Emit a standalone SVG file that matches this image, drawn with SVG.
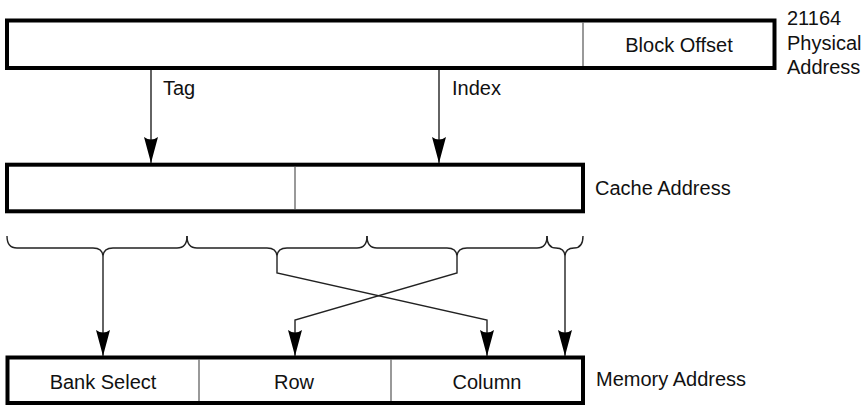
<svg xmlns="http://www.w3.org/2000/svg" width="868" height="405" viewBox="0 0 868 405">
<style>
.box{fill:#fff;stroke:#000;stroke-width:4}
.div{stroke:#555;stroke-width:1.2;fill:none}
.ln{stroke:#222;stroke-width:1.4;fill:none}
.t{font-family:"Liberation Sans",Arial,sans-serif;font-size:20px;fill:#111}
.c{text-anchor:middle}
</style>
<defs>
<marker id="ah" viewBox="0 0 26 14" refX="26" refY="7" markerWidth="26" markerHeight="14" markerUnits="userSpaceOnUse" orient="auto">
<path d="M0,0 L26,7 L0,14 Q5,7 0,0 z" fill="#000"/>
</marker>
</defs>
<rect width="868" height="405" fill="#fff"/>
<g id="physical">
<rect class="box" x="7" y="20.5" width="767.5" height="47.5"/>
<line class="div" x1="583" y1="22.5" x2="583" y2="66"/>
<text class="t c" x="679" y="51.5">Block Offset</text>
<text class="t" x="787" y="25">21164</text>
<text class="t" x="787" y="49.5">Physical</text>
<text class="t" x="787" y="73.5">Address</text>
</g>
<g id="cache">
<rect class="box" x="7" y="164.7" width="576" height="46.6"/>
<line class="div" x1="295" y1="166.7" x2="295" y2="209.3"/>
<text class="t" x="595" y="195">Cache Address</text>
</g>
<g id="memory">
<rect class="box" x="7.5" y="357.5" width="575.5" height="45.5"/>
<line class="div" x1="199" y1="359.5" x2="199" y2="401"/>
<line class="div" x1="391" y1="359.5" x2="391" y2="401"/>
<text class="t c" x="103" y="388.5">Bank Select</text>
<text class="t c" x="294" y="388.5">Row</text>
<text class="t c" x="487" y="388.5">Column</text>
<text class="t" x="596" y="386">Memory Address</text>
</g>
<g id="labels">
<text class="t" x="163" y="94.5">Tag</text>
<text class="t" x="452" y="94.5">Index</text>
</g>
<g id="connectors">
<line class="ln" x1="151" y1="70" x2="151" y2="163" marker-end="url(#ah)"/>
<line class="ln" x1="439" y1="70" x2="439" y2="163" marker-end="url(#ah)"/>
<path class="ln" d="M7,236 Q7,248 17,248 L93,248 Q103,248 103,257 Q103,248 113,248 L177,248 Q187,248 187,236"/>
<path class="ln" d="M187,236 Q187,248 197,248 L267,248 Q277,248 277,257 Q277,248 287,248 L357,248 Q367,248 367,236"/>
<path class="ln" d="M367,236 Q367,248 377,248 L447,248 Q457,248 457,257 Q457,248 467,248 L537,248 Q547,248 547,236"/>
<path class="ln" d="M547,236 Q547,248 556,248 Q565,248 565,257 Q565,248 574,248 Q583,248 583,236"/>
<line class="ln" x1="103" y1="257" x2="103" y2="356" marker-end="url(#ah)"/>
<polyline class="ln" points="277,257 277,273 487,320 487,356" marker-end="url(#ah)"/>
<polyline class="ln" points="457,257 457,273 295,320 295,356" marker-end="url(#ah)"/>
<line class="ln" x1="565" y1="257" x2="565" y2="356" marker-end="url(#ah)"/>
</g>
</svg>
